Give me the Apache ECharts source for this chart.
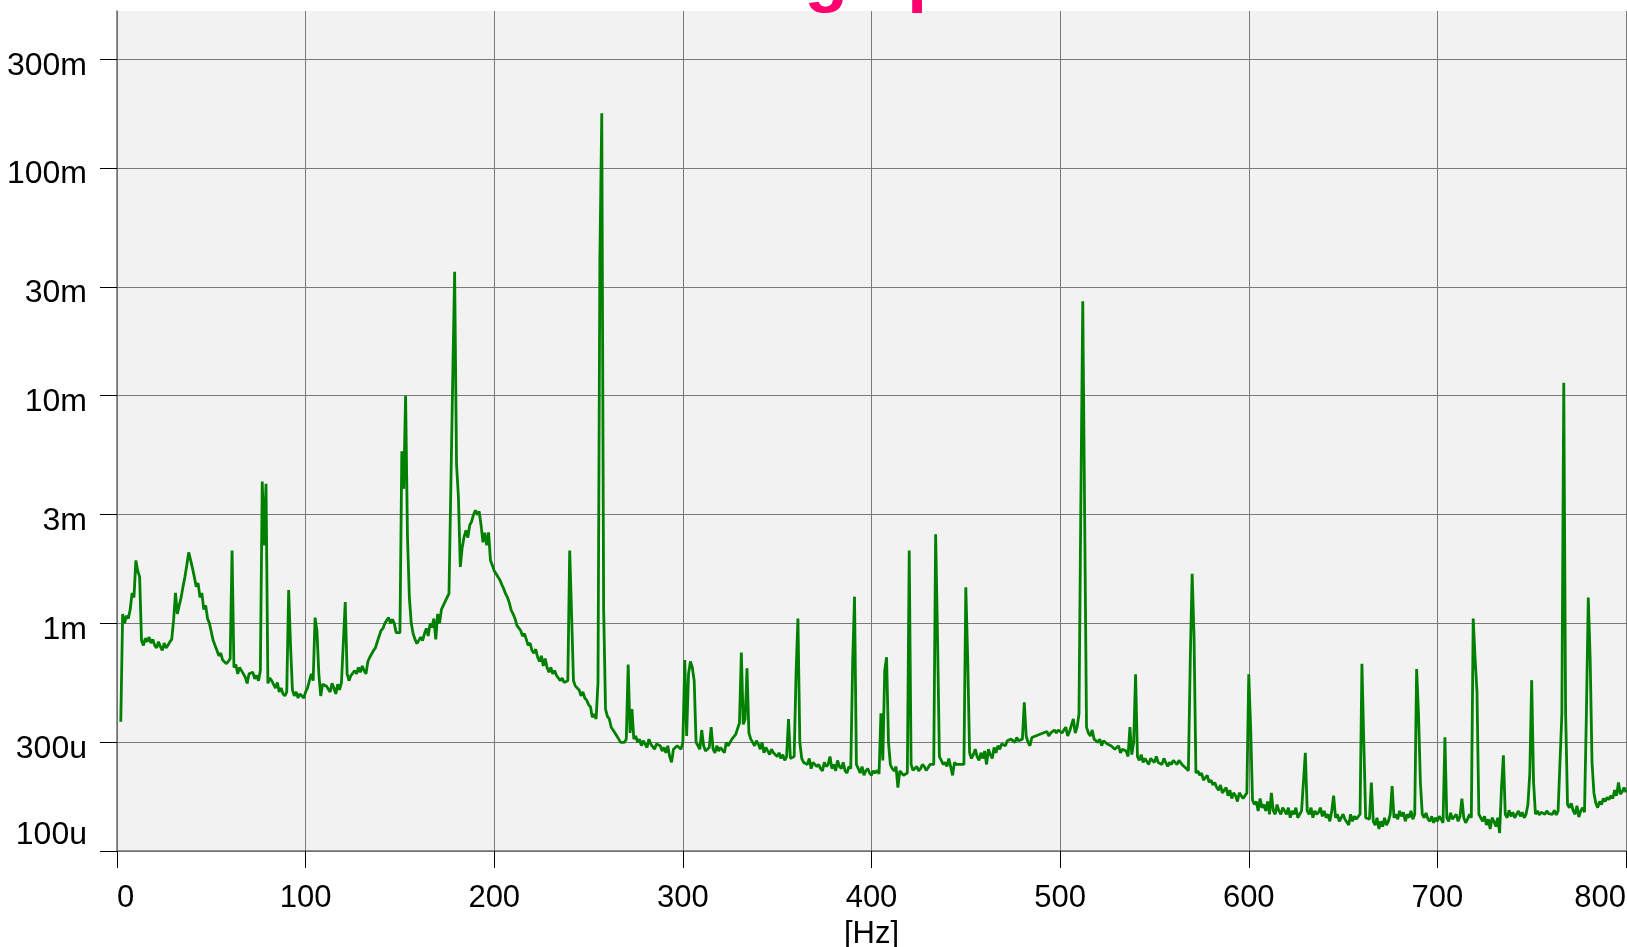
<!DOCTYPE html>
<html>
<head>
<meta charset="utf-8">
<script src="https://cdn.jsdelivr.net/npm/echarts@6/dist/echarts.min.js"></script>
<style>
  html, body { margin: 0; padding: 0; background: #fff; }
  #chart { width: 1627px; height: 947px; }
</style>
</head>
<body>
<div id="chart"></div>
<script>
// spectrum amplitude, micro units, one value per Hz starting at freqStart
var freqStart = 2;
var ampMicro = [
  370, 1100, 1000, 1080, 1050, 1150, 1360, 1300,                    // 2-9
  1890, 1700, 1600, 840, 800, 860, 830, 870, 820, 850,              // 10
  800, 780, 830, 790, 760, 820, 780, 800, 830, 850,                 // 20
  1030, 1360, 1100, 1200, 1300, 1450, 1600, 1800, 2050, 1900,       // 30
  1750, 1600, 1450, 1500, 1300, 1360, 1150, 1200, 1050, 1000,       // 40
  980, 840, 800, 760, 720, 740, 690, 700, 665, 680,                 // 50
  700, 2090, 640, 660, 600, 640, 620, 600, 580, 545,                // 60
  600, 590, 610, 570, 590, 560, 620, 4200, 2200, 4100,              // 70
  545, 575, 560, 540, 520, 550, 500, 520, 490, 480,                 // 80
  500, 1400, 800, 510, 480, 500, 470, 490, 480, 470,                // 90
  500, 520, 560, 600, 560, 1060, 930, 600, 480, 540,                // 100
  545, 530, 540, 500, 545, 520, 490, 540, 510, 550,                 // 110
  560, 1240, 600, 560, 590, 580, 620, 600, 640, 610,                // 120
  650, 620, 600, 680, 710, 700, 760, 780, 830, 880,                 // 130
  930, 950, 1000, 980, 1060, 1000, 1040, 1000, 910, 920,            // 140
  910, 5700, 3900, 10000, 2400, 1300, 1000, 900, 850, 815,          // 150
  820, 870, 840, 900, 950, 880, 1000, 960, 1050, 850,               // 160
  1100, 1000, 1150, 1200, 1250, 1300, 1350, 1370, 12000, 35000,     // 170
  5000, 3600, 1770, 2150, 2400, 2560, 2380, 2700, 2800, 3000,       // 180
  3140, 3000, 3100, 2700, 2270, 2500, 2200, 2510, 1890, 1800,       // 190
  1700, 1650, 1600, 1550, 1480, 1420, 1350, 1300, 1230, 1140,       // 200
  1100, 1050, 980, 1000, 930, 880, 900, 850, 800, 820,              // 210
  760, 740, 770, 710, 680, 720, 650, 700, 640, 610,                 // 220
  640, 600, 620, 590, 580, 560, 575, 550, 545, 560,                 // 230
  2090, 1100, 560, 530, 525, 510, 480, 500, 470, 460,               // 240
  440, 430, 387, 400, 380, 550, 40000, 174000, 1150, 420,           // 250
  390, 380, 350, 340, 330, 320, 310, 300, 305, 300,                 // 260
  310, 660, 330, 420, 310, 320, 300, 310, 290, 305,                 // 270
  300, 285, 310, 295, 300, 280, 295, 300, 290, 275,                 // 280
  285, 270, 290, 260, 245, 280, 275, 290, 285, 280,                 // 290
  300, 690, 320, 600, 680, 640, 560, 300, 290, 280,                 // 300
  340, 290, 275, 270, 285, 350, 280, 270, 290, 275,                 // 310
  285, 280, 270, 300, 290, 300, 310, 315, 325, 345,                 // 320
  365, 745, 360, 380, 635, 330, 310, 300, 290, 305,                 // 330
  295, 280, 300, 270, 285, 290, 265, 280, 270, 275,                 // 340
  260, 270, 255, 265, 250, 260, 380, 255, 250, 260,                 // 350
  600, 1050, 300, 255, 245, 250, 240, 255, 230, 245,                // 360
  250, 235, 240, 230, 225, 245, 235, 240, 260, 230,                 // 370
  240, 225, 250, 235, 230, 245, 225, 220, 235, 230,                 // 380
  665, 1310, 240, 230, 220, 235, 215, 225, 230, 220,                // 390
  215, 225, 220, 226, 218, 403, 250, 620, 710, 300,                 // 400
  240, 230, 225, 235, 190, 225, 220, 215, 218, 220,                 // 410
  2090, 240, 226, 230, 235, 225, 230, 240, 235, 226,                // 420
  232, 240, 243, 240, 2460, 870, 260, 250, 240, 245,                // 430
  235, 255, 250, 215, 245, 240, 238, 240, 236, 240,                 // 440
  1440, 700, 270, 255, 265, 280, 260, 250, 270, 255,                // 450
  275, 240, 280, 265, 255, 285, 270, 290, 280, 295,                 // 460
  300, 290, 305, 300, 310, 305, 300, 315, 305, 300,                 // 470
  310, 450, 320, 300, 290, 315, 310, 320, 315, 325,                 // 480
  320, 330, 325, 335, 320, 330, 335, 340, 330, 340,                 // 490
  345, 330, 340, 350, 320, 335, 340, 380, 330, 350,                 // 500
  400, 3500, 26000, 3000, 350, 330, 320, 340, 310, 315,             // 510
  300, 310, 290, 305, 300, 295, 300, 290, 285, 280,                 // 520
  285, 290, 270, 280, 278, 275, 260, 350, 265, 300,                 // 530
  597, 260, 250, 265, 245, 255, 260, 240, 255, 250,                 // 540
  245, 260, 245, 250, 240, 255, 250, 235, 245, 240,                 // 550
  250, 245, 240, 250, 245, 238, 240, 230, 225, 700,                 // 560
  1650, 870, 220, 225, 215, 220, 205, 210, 215, 200,                // 570
  205, 195, 200, 190, 185, 195, 180, 185, 190, 175,                 // 580
  185, 170, 180, 175, 165, 180, 175, 170, 172, 180,                 // 590
  597, 350, 167, 160, 165, 150, 170, 155, 160, 150,                 // 600
  165, 145, 180, 150, 145, 160, 150, 145, 155, 150,                 // 610
  145, 155, 140, 150, 145, 155, 140, 145, 150, 150,                 // 620
  270, 150, 145, 155, 140, 150, 145, 148, 155, 142,                 // 630
  150, 140, 145, 135, 150, 175, 140, 145, 135, 140,                 // 640
  145, 138, 140, 130, 145, 135, 142, 138, 140, 145,                 // 650
  665, 300, 140, 141, 138, 200, 135, 130, 140, 125,                 // 660
  135, 128, 140, 130, 135, 145, 193, 140, 145, 138,                 // 670
  150, 142, 148, 135, 145, 140, 150, 138, 145, 630,                 // 680
  400, 200, 145, 140, 147, 138, 135, 142, 133, 140,                 // 690
  135, 142, 138, 133, 316, 140, 135, 147, 138, 140,                 // 700
  145, 135, 142, 170, 140, 133, 138, 145, 140, 1050,                // 710
  700, 500, 145, 140, 135, 142, 130, 138, 125, 140,                 // 720
  135, 128, 140, 120, 190, 263, 145, 140, 151, 142,                 // 730
  148, 140, 145, 150, 142, 148, 140, 145, 160, 220,                 // 740
  563, 200, 145, 150, 144, 148, 151, 145, 150, 146,                 // 750
  148, 145, 151, 144, 150, 147, 400, 11400, 400, 160,               // 760
  155, 162, 150, 145, 158, 141, 150, 155, 148, 400,                 // 770
  1300, 700, 243, 180, 162, 155, 165, 160, 170, 165,                // 780
  172, 168, 175, 170, 185, 175, 200, 178, 182, 190,                 // 790
  181                                                               // 800
];

var xTicks = [0, 100, 200, 300, 400, 500, 600, 700, 800];
var yTickValues = [1e-4, 3e-4, 1e-3, 3e-3, 1e-2, 3e-2, 0.1, 0.3];
var yTickLabels = ['100u', '300u', '1m', '3m', '10m', '30m', '100m', '300m'];

// only the descenders of the title are visible at the top edge
var titleText = 'Housing spectrum';

var yTickLogs = yTickValues.map(function(v){ return Math.log10(v); });

var seriesData = ampMicro.map(function(a, i){
  return [freqStart + i, Math.log10(a * 1e-6)];
});

var chart = echarts.init(document.getElementById('chart'), null, {renderer: 'canvas'});

var fontFamily = '"Liberation Sans", Arial, sans-serif';

var option = {
  animation: false,
  backgroundColor: '#ffffff',
  title: {
    text: titleText,
    left: 559,
    top: -62,
    textStyle: {
      fontFamily: fontFamily,
      fontSize: 71,
      fontWeight: 'bold',
      color: '#ff006e'
    }
  },
  grid: {
    left: 117,
    right: 1,
    top: 11,
    bottom: 96,
    show: true,
    backgroundColor: '#f2f2f2',
    borderWidth: 0,
    containLabel: false,
    outerBoundsMode: 'none'
  },
  xAxis: {
    type: 'value',
    min: xTicks[0],
    max: xTicks[xTicks.length - 1],
    interval: 100,
    name: '[Hz]',
    nameLocation: 'middle',
    nameGap: 66,
    nameTextStyle: {
      fontFamily: fontFamily,
      fontSize: 31,
      color: '#000'
    },
    axisLine: {show: true, lineStyle: {color: '#707070', width: 1.5}},
    axisTick: {show: true, inside: false, length: 17, lineStyle: {color: '#000', width: 1}},
    axisLabel: {
      margin: 32,
      fontFamily: fontFamily,
      fontSize: 31,
      color: '#000',
      alignMinLabel: 'left',
      alignMaxLabel: 'right'
    },
    splitLine: {show: true, lineStyle: {color: '#7a7a7a', width: 1}}
  },
  yAxis: {
    type: 'value',
    min: -4,
    max: -0.31,
    axisLine: {show: true, lineStyle: {color: '#707070', width: 1.5}},
    axisTick: {show: true, inside: false, length: 17, customValues: yTickLogs,
      lineStyle: {color: '#000', width: 1}},
    axisLabel: {
      customValues: yTickLogs,
      margin: 30,
      verticalAlign: 'top',
      verticalAlignMinLabel: 'bottom',
      lineHeight: 13,
      fontFamily: fontFamily,
      fontSize: 32,
      color: '#000',
      rich: {
        low: {fontFamily: fontFamily, fontSize: 32, color: '#000', lineHeight: 32}
      },
      formatter: function(value){
        for (var i = 0; i < yTickLogs.length; i++) {
          if (Math.abs(yTickLogs[i] - value) < 1e-6) {
            return i === 0 ? '{low|' + yTickLabels[i] + '}' : yTickLabels[i];
          }
        }
        return '';
      }
    },
    splitLine: {show: true, lineStyle: {color: '#7a7a7a', width: 1}}
  },
  series: [{
    type: 'line',
    data: seriesData,
    showSymbol: false,
    symbol: 'none',
    lineStyle: {color: '#008000', width: 2.8},
    itemStyle: {color: '#008000'},
    emphasis: {disabled: true}
  }]
};

chart.setOption(option);
</script>
</body>
</html>
